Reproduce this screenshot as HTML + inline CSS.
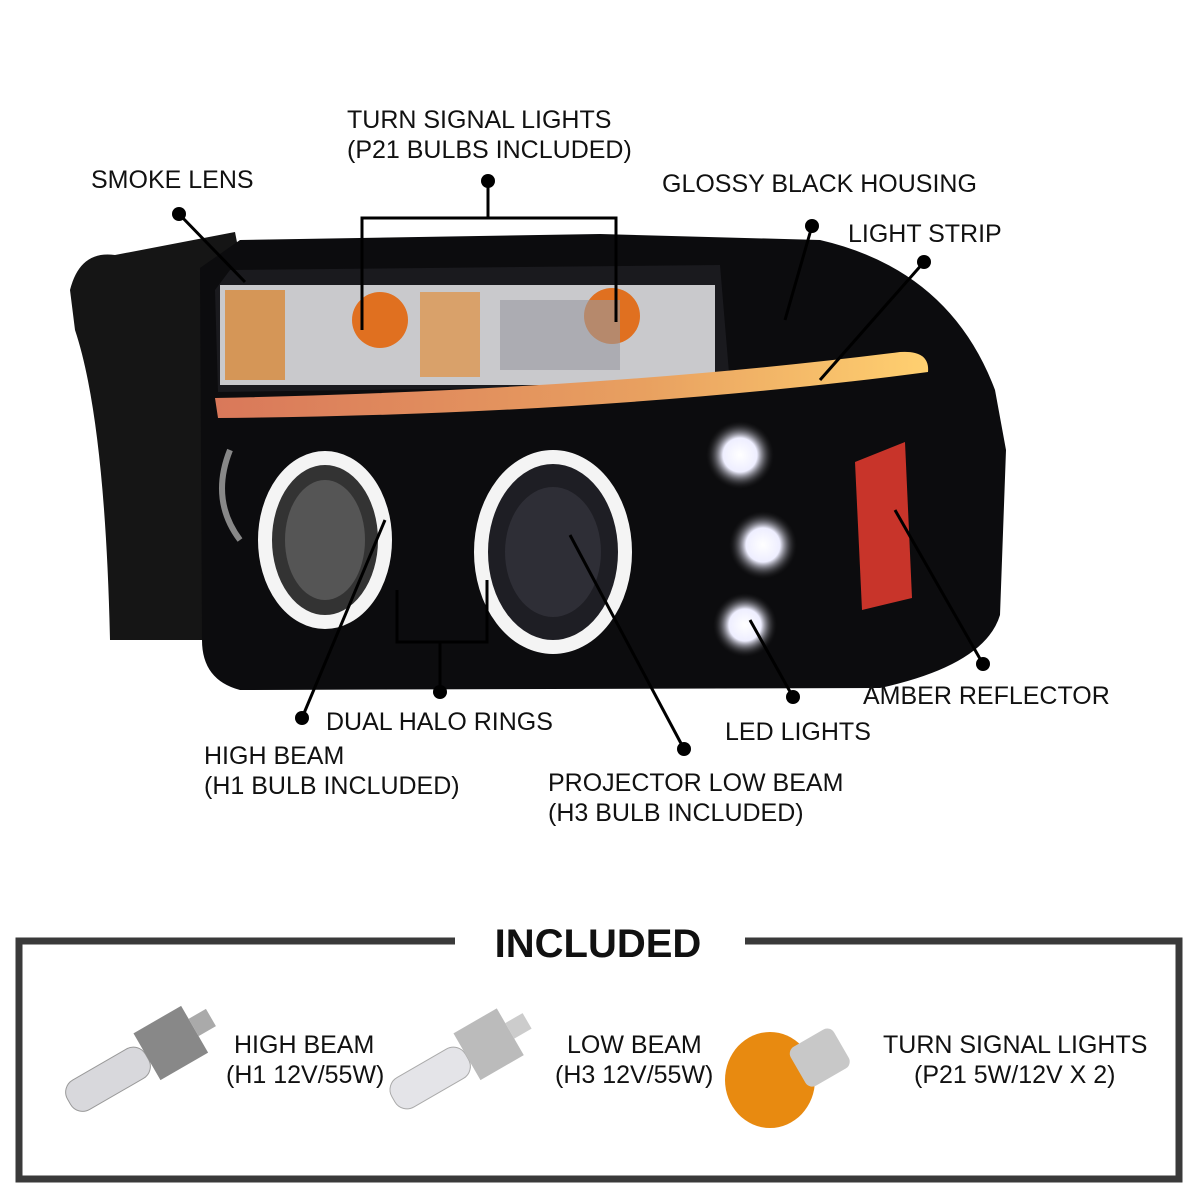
<!DOCTYPE html>
<html><head><meta charset="utf-8"><style>
body{margin:0;background:#fff;width:1200px;height:1200px;overflow:hidden}
svg{display:block}
text{font-family:"Liberation Sans",Arial,sans-serif;font-size:25px;fill:#111}
</style></head><body>
<svg width="1200" height="1200" viewBox="0 0 1200 1200">
<defs>
<radialGradient id="led"><stop offset="0" stop-color="#fff"/><stop offset="0.5" stop-color="#eef"/><stop offset="1" stop-color="#222" stop-opacity="0"/></radialGradient>
<linearGradient id="strip" x1="0" x2="1"><stop offset="0" stop-color="#d9785a"/><stop offset="0.6" stop-color="#e8a060"/><stop offset="1" stop-color="#ffd070"/></linearGradient>
</defs>
<path d="M70 290 Q80 250 115 255 L235 232 L242 268 L208 282 L205 640 L110 640 Q105 420 75 330 Z" fill="#151515"/>
<path d="M200 268 L240 240 L600 234 L820 240 Q950 270 995 390 L1006 450 L1000 615 Q985 665 880 688 L240 690 Q202 680 202 640 Z" fill="#0c0c0e"/>
<path d="M215 290 L230 270 L720 265 L730 385 L218 392 Z" fill="#1a1a1e"/>
<rect x="220" y="285" width="495" height="100" fill="#c9c9cc"/>
<rect x="225" y="290" width="60" height="90" fill="#d88a3a" opacity="0.8"/>
<rect x="420" y="292" width="60" height="85" fill="#e09040" opacity="0.7"/>
<circle cx="380" cy="320" r="28" fill="#e07020"/>
<circle cx="612" cy="316" r="28" fill="#e07020"/>
<rect x="500" y="300" width="120" height="70" fill="#9a9aa0" opacity="0.6"/>
<path d="M215 398 Q600 390 900 352 Q930 350 928 372 Q600 415 218 418 Z" fill="url(#strip)"/>
<ellipse cx="325" cy="540" rx="60" ry="82" fill="#333" stroke="#f4f4f4" stroke-width="14"/>
<ellipse cx="325" cy="540" rx="40" ry="60" fill="#555"/>
<ellipse cx="553" cy="552" rx="72" ry="95" fill="#1e1e24" stroke="#f4f4f4" stroke-width="14"/>
<ellipse cx="553" cy="552" rx="48" ry="65" fill="#2e2e36"/>
<path d="M230 450 Q210 500 240 540" stroke="#888" stroke-width="6" fill="none"/>
<circle cx="740" cy="455" r="34" fill="url(#led)"/>
<circle cx="763" cy="545" r="34" fill="url(#led)"/>
<circle cx="745" cy="625" r="32" fill="url(#led)"/>
<polygon points="855,462 905,442 912,598 862,610" fill="#c8342a"/>
<g stroke="#000" stroke-width="3" fill="none">
<line x1="179" y1="214" x2="245" y2="282"/>
<polyline points="362,330 362,218 616,218 616,322"/>
<line x1="488" y1="181" x2="488" y2="218"/>
<line x1="812" y1="226" x2="785" y2="320"/>
<line x1="924" y1="262" x2="820" y2="380"/>
<line x1="983" y1="664" x2="895" y2="510"/>
<line x1="793" y1="697" x2="750" y2="620"/>
<line x1="684" y1="749" x2="570" y2="535"/>
<polyline points="397,590 397,642 487,642 487,580"/>
<line x1="440" y1="642" x2="440" y2="692"/>
<line x1="302" y1="718" x2="385" y2="520"/>
</g>
<g fill="#000">
<circle cx="179" cy="214" r="7"/><circle cx="488" cy="181" r="7"/><circle cx="812" cy="226" r="7"/>
<circle cx="924" cy="262" r="7"/><circle cx="983" cy="664" r="7"/><circle cx="793" cy="697" r="7"/>
<circle cx="684" cy="749" r="7"/><circle cx="440" cy="692" r="7"/><circle cx="302" cy="718" r="7"/>
</g>
<text x="347" y="128">TURN SIGNAL LIGHTS</text>
<text x="347" y="158">(P21 BULBS INCLUDED)</text>
<text x="91" y="188">SMOKE LENS</text>
<text x="662" y="192">GLOSSY BLACK HOUSING</text>
<text x="848" y="242">LIGHT STRIP</text>
<text x="863" y="704">AMBER REFLECTOR</text>
<text x="725" y="740">LED LIGHTS</text>
<text x="326" y="730">DUAL HALO RINGS</text>
<text x="204" y="764">HIGH BEAM</text>
<text x="204" y="794">(H1 BULB INCLUDED)</text>
<text x="548" y="791">PROJECTOR LOW BEAM</text>
<text x="548" y="821">(H3 BULB INCLUDED)</text>
<path d="M455 941 L19 941 L19 1179 L1179 1179 L1179 941 L745 941" stroke="#3a3a3a" stroke-width="7" fill="none"/>
<text x="598" y="957" text-anchor="middle" style="font-size:40px;font-weight:bold">INCLUDED</text>
<g transform="rotate(-30 120 1070)">
<rect x="60" y="1055" width="90" height="34" rx="14" fill="#d8d8dc" stroke="#999"/>
<rect x="150" y="1045" width="55" height="54" fill="#888"/>
<rect x="205" y="1060" width="20" height="20" fill="#aaa"/>
</g>
<g transform="rotate(-30 440 1070)">
<rect x="385" y="1055" width="85" height="34" rx="14" fill="#e4e4e8" stroke="#aaa"/>
<rect x="470" y="1045" width="50" height="54" fill="#bbb"/>
<rect x="520" y="1062" width="20" height="18" fill="#ccc"/>
</g>
<ellipse cx="770" cy="1080" rx="45" ry="48" fill="#e88a10"/>
<rect x="795" y="1035" width="50" height="45" rx="8" fill="#c8c8c8" transform="rotate(-30 820 1058)"/>
<text x="234" y="1053">HIGH BEAM</text>
<text x="226" y="1083">(H1 12V/55W)</text>
<text x="567" y="1053">LOW BEAM</text>
<text x="555" y="1083">(H3 12V/55W)</text>
<text x="883" y="1053">TURN SIGNAL LIGHTS</text>
<text x="914" y="1083">(P21 5W/12V X 2)</text>
</svg>
</body></html>
